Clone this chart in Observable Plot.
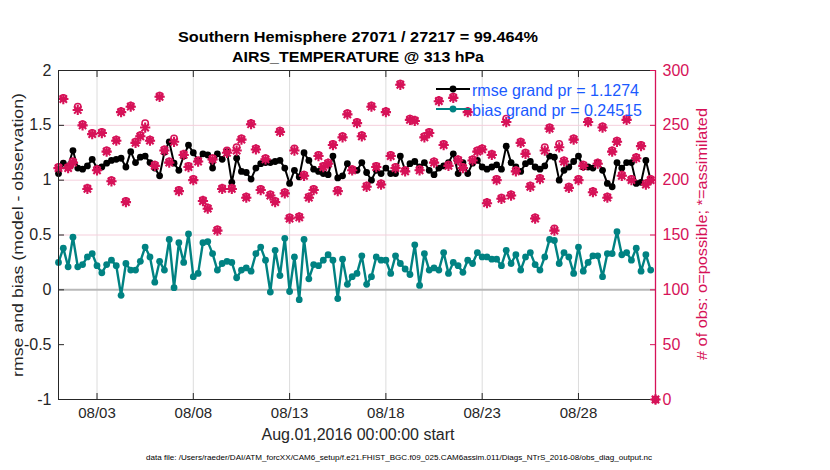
<!DOCTYPE html>
<html><head><meta charset="utf-8">
<script src="https://cdn.jsdelivr.net/npm/d3@7"></script>
<script src="https://cdn.jsdelivr.net/npm/@observablehq/plot@0.6"></script>
<style>body{margin:0;background:#fff} svg{display:block}</style>
</head><body><div id="chart"></div>
<script>
// ---------- data ----------
const titleLines = ["Southern Hemisphere 27071 / 27217 = 99.464%", "AIRS_TEMPERATURE @ 313 hPa"];
const yLabel = "rmse and bias (model - observation)";
const countLabel = "# of obs: o=possible; *=assimilated";
const xLabel = "Aug.01,2016 00:00:00 start";
const caption = "data file: /Users/raeder/DAI/ATM_forcXX/CAM6_setup/f.e21.FHIST_BGC.f09_025.CAM6assim.011/Diags_NTrS_2016-08/obs_diag_output.nc";
const legendLabels = ["rmse grand pr = 1.1274", "bias grand pr = 0.24515"];

const startTime = "2016-08-01T00:00:00Z";
const endTime = "2016-09-01T00:00:00Z";
const binHours = 6;

const rmse = [1.06,1.155,1.13,1.27,1.11,1.10,1.13,1.19,1.11,1.12,1.155,1.18,1.19,1.20,1.12,1.26,1.16,1.21,1.22,1.16,
1.11,1.04,1.255,1.35,1.155,1.09,1.22,1.32,1.25,1.18,1.24,1.23,1.11,1.24,1.19,1.26,0.98,1.20,1.08,1.07,
1.01,1.11,1.15,1.16,1.16,1.17,1.18,1.11,0.97,1.09,1.03,1.25,1.18,1.10,1.08,1.06,1.05,1.22,1.02,1.04,
1.15,1.09,1.09,1.16,1.07,1.00,1.09,1.06,1.11,1.06,1.06,1.22,1.09,1.15,1.17,1.12,1.16,1.09,1.05,1.11,
1.13,1.16,1.24,1.06,1.16,1.06,1.155,1.18,1.12,1.10,1.12,1.14,1.10,1.31,1.16,1.12,1.08,1.15,1.17,1.12,
1.10,1.13,1.22,1.21,1.00,1.09,1.12,1.17,1.22,1.12,1.12,1.11,1.16,1.09,0.97,0.94,1.16,1.11,1.16,1.16,
0.97,0.98,1.18,1.00];

const bias = [0.25,0.38,0.21,0.48,0.21,0.23,0.30,0.33,0.22,0.155,0.23,0.27,0.22,-0.05,0.24,0.18,0.18,0.26,0.39,0.30,
0.07,0.26,0.18,0.46,0.02,0.43,0.25,0.51,0.12,0.15,0.43,0.44,0.33,0.18,0.24,0.26,0.25,0.11,0.18,0.20,
0.17,0.33,0.39,0.27,-0.02,0.36,0.13,0.47,-0.015,0.30,-0.09,0.46,0.10,0.23,0.22,0.27,0.32,0.27,-0.08,0.28,
0.05,0.12,0.15,0.31,0.05,0.12,0.30,0.27,0.27,0.15,0.31,0.24,0.19,0.14,0.41,0.04,0.33,0.18,0.20,0.18,
0.34,0.15,0.25,0.22,0.16,0.27,0.24,0.34,0.30,0.30,0.28,0.28,0.22,0.36,0.24,0.32,0.18,0.30,0.34,0.23,
0.18,0.30,0.46,0.45,0.24,0.34,0.30,0.15,0.39,0.17,0.25,0.31,0.31,0.12,0.33,0.33,0.53,0.32,0.34,0.27,
0.38,0.17,0.32,0.18];

const assimilated = [211,274,211,216,264,250,192,242,209,243,226,199,236,262,180,267,234,240,248,236,
213,276,227,216,235,190,223,212,200,217,181,174,219,154,192,225,192,227,237,184,
251,228,191,219,186,180,244,188,165,227,166,204,184,191,222,212,215,232,190,239,
260,209,252,240,194,267,212,196,262,222,211,287,208,255,254,209,239,243,216,272,
232,213,275,218,211,262,218,226,228,179,223,200,183,253,186,208,234,224,194,165,
201,227,247,154,230,217,193,237,200,213,253,189,215,248,184,226,235,204,255,200,
220,231,196,200,0];

const possible = [212,275,212,217,267,251,193,243,210,244,227,200,237,263,181,268,235,241,252,237,
214,277,228,217,238,191,224,213,201,218,182,175,220,155,193,227,193,230,238,185,
252,229,192,220,187,181,245,189,166,229,167,205,185,192,223,213,216,233,191,240,
261,210,253,241,195,268,213,197,263,223,212,288,209,256,255,210,240,244,217,273,
233,214,276,219,212,263,219,227,229,180,224,201,184,256,187,209,235,225,195,166,
202,230,248,156,233,218,194,238,201,214,254,190,216,249,185,227,236,205,256,201,
221,232,197,201,0];

const xTickDates = ["2016-08-03","2016-08-08","2016-08-13","2016-08-18","2016-08-23","2016-08-28"];
const xTickLabels = ["08/03","08/08","08/13","08/18","08/23","08/28"];
const leftTicks = [-1,-0.5,0,0.5,1,1.5,2];
const leftTickLabels = ["-1","-0.5","0","0.5","1","1.5","2"];
const countTicks = [0,50,100,150,200,250,300];
const countGrid = [150,200,250];

// ---------- build ----------
const PINK = "#d61258", TEAL = "#008282", INK = "#262626", BLUE = "#1a5aff";
const FONT = "'Liberation Sans', Arial, Helvetica, sans-serif";
const t0 = Date.parse(startTime);
const timeOf = i => new Date(t0 + i * binHours * 3600e3);
// count axis (0..300) shares the frame with the left axis (-1..2)
const countToY = c => c / 100 - 1;

const rmseData = rmse.map((v, i) => ({t: timeOf(i), v}));
const biasData = bias.map((v, i) => ({t: timeOf(i), v}));
const countData = assimilated.map((a, i) => ({t: timeOf(i), a, p: possible[i]}));
const tickDates = xTickDates.map(d => new Date(d + "T00:00:00Z"));
const tickLabelOf = d => xTickLabels[tickDates.findIndex(e => +e === +d)];

const chart = Plot.plot({
  width: 830, height: 470,
  marginLeft: 58, marginRight: 175, marginTop: 70, marginBottom: 71,
  style: {fontFamily: FONT, background: "#fff", overflow: "visible"},
  x: {type: "utc", domain: [new Date(startTime), new Date(endTime)]},
  y: {domain: [-1, 2]},
  marks: [
    Plot.ruleX(tickDates, {stroke: "#dcdcdc", strokeWidth: 1}),
    Plot.ruleY(countGrid.map(countToY), {stroke: "#f5cfdc", strokeWidth: 1}),
    Plot.ruleY([0], {stroke: "#b8b8b8", strokeWidth: 2}),
    Plot.line(rmseData, {x: "t", y: "v", stroke: "#000", strokeWidth: 2}),
    Plot.dot(rmseData, {x: "t", y: "v", fill: "#000", r: 3.4}),
    Plot.line(biasData, {x: "t", y: "v", stroke: TEAL, strokeWidth: 2.4}),
    Plot.dot(biasData, {x: "t", y: "v", fill: TEAL, r: 3.4}),
    Plot.dot(countData, {x: "t", y: d => countToY(d.p), symbol: "circle", stroke: PINK, strokeWidth: 1.5, r: 3.2}),
    Plot.dot(countData, {x: "t", y: d => countToY(d.a), symbol: "plus", stroke: PINK, strokeWidth: 2.1, r: 3.4}),
    Plot.dot(countData, {x: "t", y: d => countToY(d.a), symbol: "times", stroke: PINK, strokeWidth: 2.1, r: 3.4}),
    Plot.frame({stroke: INK, strokeWidth: 1}),
    Plot.ruleX([new Date(endTime)], {stroke: PINK, strokeWidth: 1.3}),
    Plot.axisY(leftTicks, {anchor: "left", tickSize: -6, tickPadding: 13, stroke: INK, color: INK, fontSize: 16,
      tickFormat: v => leftTickLabels[leftTicks.indexOf(v)], label: null}),
    Plot.axisY(countTicks.map(countToY), {anchor: "right", tickSize: -6, tickPadding: 13, stroke: PINK, color: PINK, fontSize: 16,
      tickFormat: v => String(countTicks[countTicks.map(countToY).indexOf(v)]), label: null}),
    Plot.axisX(tickDates, {anchor: "bottom", tickSize: -6, tickPadding: 14, stroke: INK, color: INK, fontSize: 15,
      tickFormat: tickLabelOf, label: null}),
    Plot.axisX(tickDates, {anchor: "top", tickSize: -6, tickPadding: 0, stroke: INK, tickFormat: () => "", label: null})
  ]
});
document.getElementById("chart").appendChild(chart);

// ---------- text & legend ----------
const svg = d3.select(chart);
const addText = (txt, x, y, opts = {}) => {
  const el = svg.append("text").text(txt)
    .attr("x", x).attr("y", y)
    .attr("text-anchor", opts.anchor || "middle")
    .attr("font-family", FONT)
    .attr("font-size", opts.size || 15)
    .attr("font-weight", opts.weight || "normal")
    .attr("fill", opts.fill || INK);
  if (opts.len) el.attr("textLength", opts.len).attr("lengthAdjust", "spacingAndGlyphs");
  if (opts.transform) el.attr("transform", opts.transform);
  return el;
};
addText(titleLines[0], 358, 42, {size: 15.5, weight: "bold", fill: "#000", len: 360});
addText(titleLines[1], 358, 62, {size: 15.5, weight: "bold", fill: "#000", len: 252});
addText(yLabel, 0, 0, {size: 15.5, len: 284, transform: "translate(23,235) rotate(-90)"});
addText(countLabel, 0, 0, {size: 15, fill: PINK, len: 252, transform: "translate(707,234) rotate(-90)"});
addText(xLabel, 358, 440, {size: 16, len: 193});
addText(caption, 399, 460, {size: 7.5, fill: "#000", len: 506});

const legendColors = ["#000", TEAL];
const legendY = [89, 109];
legendLabels.forEach((lab, i) => {
  svg.append("line").attr("x1", 436).attr("x2", 470).attr("y1", legendY[i]).attr("y2", legendY[i])
    .attr("stroke", legendColors[i]).attr("stroke-width", 2.2);
  svg.append("circle").attr("cx", 453).attr("cy", legendY[i]).attr("r", 3.4).attr("fill", legendColors[i]);
  addText(lab, 472, legendY[i] + 6.5, {anchor: "start", size: 16.5, fill: BLUE, len: i === 0 ? 167 : 170});
});
</script>
</body></html>
